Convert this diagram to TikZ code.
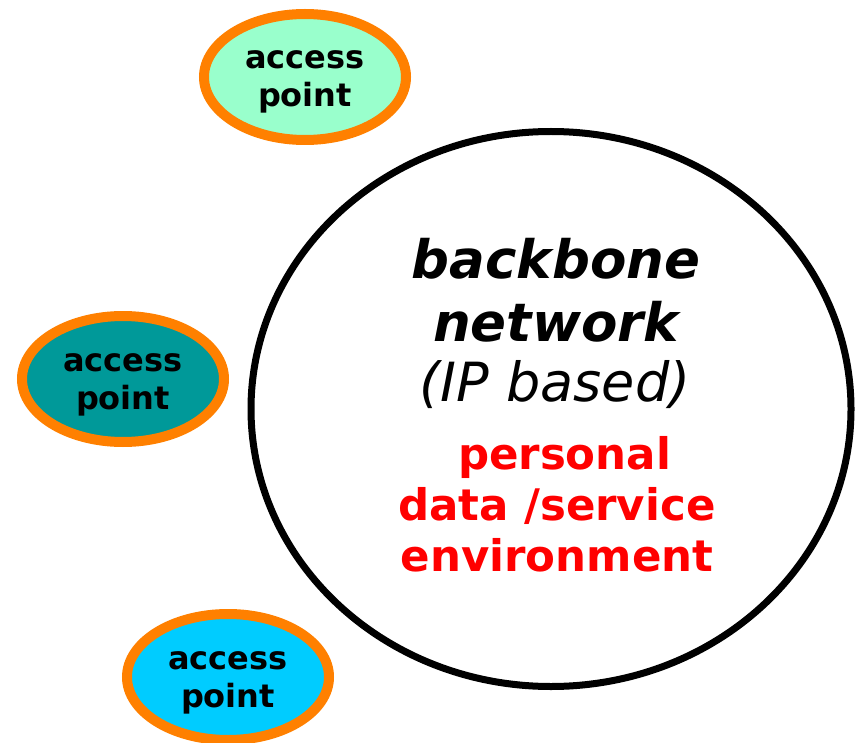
\documentclass[tikz,border=0pt]{standalone}
\usepackage{fontspec}
\setmainfont{DejaVu Sans}
\usetikzlibrary{shapes.geometric}
\definecolor{apOrange}{HTML}{FF8000}
\definecolor{apMint}{HTML}{99FFCC}
\definecolor{apTeal}{HTML}{009999}
\definecolor{apCyan}{HTML}{00CCFF}
\tikzset{
  ap/.style={ellipse,draw=apOrange,line width=10pt,minimum width=202pt,minimum height=126pt,
    inner sep=0pt,align=center,text height=70pt,text depth=10pt,
    font=\fontsize{32}{38}\selectfont\bfseries},
  backbone/.style={ellipse,draw=black,line width=7pt,minimum width=600pt,minimum height=555pt,inner sep=0pt}
}
\begin{document}
\begin{tikzpicture}[x=1pt,y=-1pt]
        \useasboundingbox (0,0) rectangle (856,743);
        \node at (551,409) [backbone] (bb) {};
        \node at (305,77) [ap,fill=apMint] (ap1) {access\\point};
        \node at (123,379) [ap,fill=apTeal] (ap2) {access\\point};
        \node at (228,677) [ap,fill=apCyan] (ap3) {access\\point};
        \node at (556,290) [align=center,font=\fontsize{53}{63}\selectfont\bfseries\itshape] (bbname) {backbone\\network};
        \node at (555,385) [font=\fontsize{54}{63}\selectfont\itshape] (ip) {(IP based)};
        \node at (557,504) [align=center,text=red,font=\fontsize{43.5}{51}\selectfont\bfseries] (pd) {\ personal\\data /service\\environment};
\end{tikzpicture}
\end{document}
